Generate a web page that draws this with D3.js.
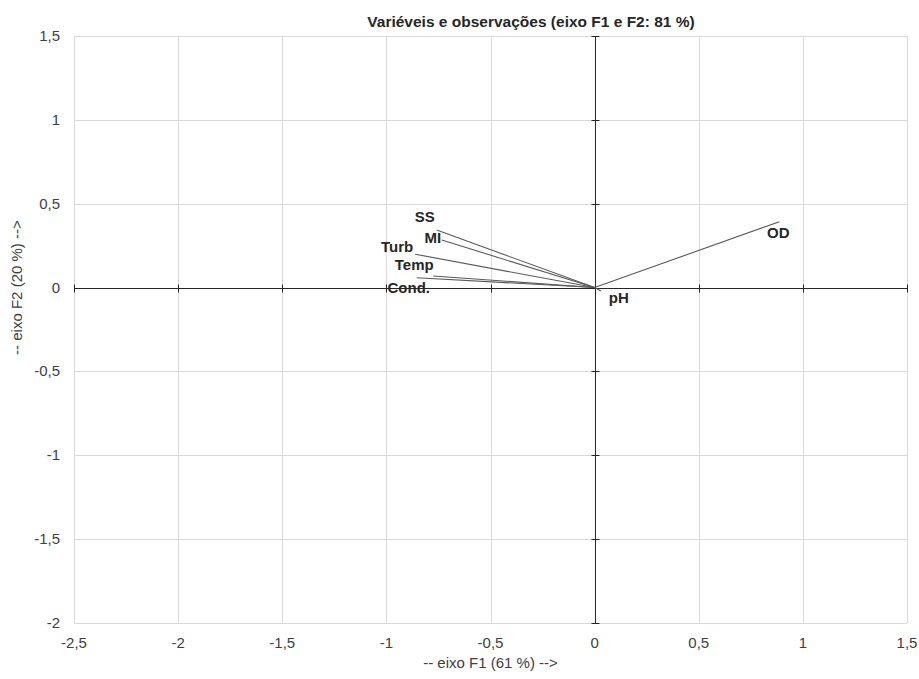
<!DOCTYPE html>
<html>
<head>
<meta charset="utf-8">
<script src="https://cdn.jsdelivr.net/npm/d3@7"></script>
<style>
  body { margin: 0; background: #fff; }
  text { font-family: "Liberation Sans", Arial, sans-serif; }
  .grid line { stroke: #d9d9d9; }
  .tick-label { font-size: 15px; fill: #404040; }
  .var-label { font-size: 15px; font-weight: bold; fill: #262626; }
</style>
</head>
<body>
<svg id="chart" width="919" height="679"></svg>
<script>
// Variable loadings (F1, F2)
const variables = ['SS', 'MI', 'Turb', 'Temp', 'Cond.', 'OD', 'pH'];
const f1Values = [-0.758, -0.734, -0.862, -0.775, -0.854, 0.887, 0.03];
const f2Values = [0.343, 0.284, 0.199, 0.069, 0.059, 0.393, -0.02];

// Axis ticks
const xTicks = [-2.5, -2, -1.5, -1, -0.5, 0, 0.5, 1, 1.5];
const yTicks = [-2, -1.5, -1, -0.5, 0, 0.5, 1, 1.5];

// Label offsets (px) from the vector end
const labelOffsets = {
  'SS': [-12, -8], 'MI': [-9, 3], 'Turb': [-18, -2], 'Temp': [-19, -6],
  'Cond.': [-8, 15], 'OD': [-1, 16], 'pH': [18, 12]
};

const margin = { top: 36, right: 12, bottom: 56, left: 74 };
const width = 919 - margin.left - margin.right;
const height = 679 - margin.top - margin.bottom;

const fmt = d => String(d).replace('.', ',');

const svg = d3.select('#chart');
const g = svg.append('g').attr('transform', `translate(${margin.left},${margin.top})`);

const x = d3.scaleLinear().domain([-2.5, 1.5]).range([0, width]);
const y = d3.scaleLinear().domain([-2, 1.5]).range([height, 0]);

// Gridlines
g.append('g').attr('class', 'grid')
  .selectAll('line').data(xTicks).enter().append('line')
    .attr('x1', d => Math.round(x(d)) + 0.5).attr('x2', d => Math.round(x(d)) + 0.5)
    .attr('y1', 0).attr('y2', height);
g.append('g').attr('class', 'grid')
  .selectAll('line').data(yTicks).enter().append('line')
    .attr('y1', d => Math.round(y(d)) + 0.5).attr('y2', d => Math.round(y(d)) + 0.5)
    .attr('x1', 0).attr('x2', width);

// Tick labels
g.append('g').selectAll('text').data(xTicks).enter().append('text')
  .attr('class', 'tick-label')
  .attr('x', d => x(d)).attr('y', height + 25)
  .attr('text-anchor', 'middle')
  .text(fmt);
g.append('g').selectAll('text').data(yTicks).enter().append('text')
  .attr('class', 'tick-label')
  .attr('x', -14).attr('y', d => y(d) + 5)
  .attr('text-anchor', 'end')
  .text(fmt);

// Zero axes with crossing ticks
const x0 = Math.round(x(0)) + 0.5;
const y0 = Math.round(y(0)) + 0.5;
const axes = g.append('g').attr('stroke', '#262626').attr('stroke-width', 1);
axes.append('line').attr('x1', 0).attr('x2', width).attr('y1', y0).attr('y2', y0);
axes.append('line').attr('x1', x0).attr('x2', x0).attr('y1', 0).attr('y2', height);
axes.selectAll('.xt').data(xTicks).enter().append('line')
  .attr('x1', d => Math.round(x(d)) + 0.5).attr('x2', d => Math.round(x(d)) + 0.5)
  .attr('y1', y0 - 4).attr('y2', y0 + 4);
axes.selectAll('.yt').data(yTicks).enter().append('line')
  .attr('y1', d => Math.round(y(d)) + 0.5).attr('y2', d => Math.round(y(d)) + 0.5)
  .attr('x1', x0 - 4).attr('x2', x0 + 4);

// Vectors
const data = variables.map((name, i) => ({ name, f1: f1Values[i], f2: f2Values[i] }));
g.append('g').selectAll('line').data(data).enter().append('line')
  .attr('x1', x(0)).attr('y1', y(0))
  .attr('x2', d => x(d.f1)).attr('y2', d => y(d.f2))
  .attr('stroke', '#595959').attr('stroke-width', 1.1);

g.append('g').selectAll('text').data(data).enter().append('text')
  .attr('class', 'var-label')
  .attr('x', d => x(d.f1) + labelOffsets[d.name][0])
  .attr('y', d => y(d.f2) + labelOffsets[d.name][1])
  .attr('text-anchor', 'middle')
  .text(d => d.name);

// Titles
svg.append('text')
  .attr('x', 531).attr('y', 27)
  .attr('text-anchor', 'middle')
  .style('font-size', '15.5px').style('font-weight', 'bold').style('fill', '#262626')
  .text('Variéveis e observações (eixo F1 e F2: 81 %)');

svg.append('text')
  .attr('x', margin.left + width / 2).attr('y', 668)
  .attr('text-anchor', 'middle')
  .style('font-size', '15px').style('fill', '#404040')
  .text('-- eixo F1 (61 %) -->');

svg.append('text')
  .attr('transform', `translate(22, ${margin.top + y(0)}) rotate(-90)`)
  .attr('text-anchor', 'middle')
  .style('font-size', '15px').style('fill', '#404040')
  .text('-- eixo F2 (20 %) -->');
</script>
</body>
</html>
